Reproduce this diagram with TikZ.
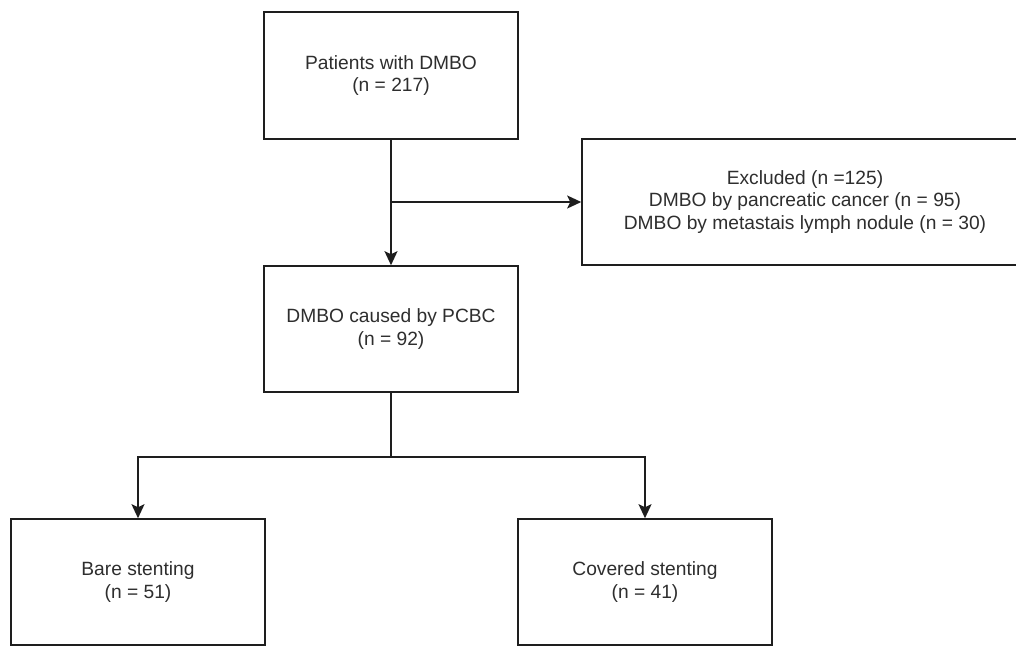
\documentclass[tikz,border=0pt]{standalone}
\usepackage{fontspec}
\setmainfont{Liberation Sans}
\usetikzlibrary{arrows.meta}
\definecolor{txt}{HTML}{2E2E2E}
\definecolor{ln}{HTML}{1E1E1E}
\begin{document}
\begin{tikzpicture}[x=1pt,y=-1pt,
  box/.style={draw=ln, line width=1.6pt, fill=white, inner sep=0pt, align=center,
    text=txt, font=\fontsize{19.2}{22.8}\selectfont},
  conn/.style={draw=ln, line width=1.6pt},
  arr/.style={conn, -{Stealth[length=14pt,width=13pt,inset=3pt]}}]
\clip (0,0) rectangle (1016,646);
\useasboundingbox (0,0) rectangle (1016,646);
\fill[white] (0,0) rectangle (1016,646);
\node[box, minimum width=254pt, minimum height=127pt] (top) at (391,75.5) {Patients with DMBO\\(n = 217)};
\node[box, minimum width=254pt, minimum height=126pt] (mid) at (391,329) {DMBO caused by PCBC\\(n = 92)};
\node[box, minimum width=446pt, minimum height=126pt] (excl) at (805,202) {Excluded (n =125)\\DMBO by pancreatic cancer (n = 95)\\DMBO by metastais lymph nodule (n = 30)};
\node[box, minimum width=254pt, minimum height=126pt] (bl) at (138,582) {Bare stenting\\(n = 51)};
\node[box, minimum width=254pt, minimum height=126pt] (brx) at (645,582) {Covered stenting\\(n = 41)};
\coordinate (branch) at (391,202);
\coordinate (split) at (391,457);
\draw[arr] (top) -- (mid);
\draw[arr] (branch) -- (excl.west);
\draw[conn] (mid.south) -- (split);
\draw[arr] (split) -| (bl.north);
\draw[arr] (split) -| (brx.north);
\end{tikzpicture}
\end{document}
